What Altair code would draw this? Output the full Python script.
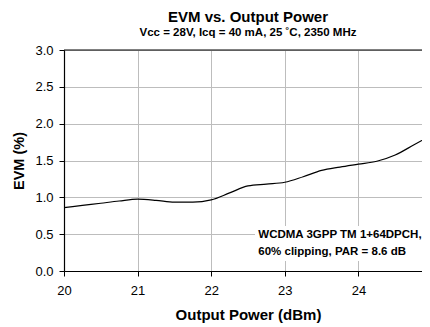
import altair as alt
import pandas as pd

power = [20.0, 20.25, 20.5, 20.75, 21.0, 21.25, 21.5, 21.75, 22.0, 22.25, 22.5,
         22.75, 23.0, 23.25, 23.5, 23.75, 24.0, 24.25, 24.5, 24.75, 25.0]
evm = [0.86, 0.89, 0.92, 0.95, 0.975, 0.96, 0.935, 0.935, 0.965, 1.06, 1.155,
       1.18, 1.205, 1.28, 1.365, 1.41, 1.45, 1.49, 1.575, 1.71, 1.85]

x_ticks = [20, 21, 22, 23, 24, 25]
y_ticks = [0.0, 0.5, 1.0, 1.5, 2.0, 2.5, 3.0]

note_lines = ["WCDMA 3GPP TM 1+64DPCH,", "60% clipping, PAR = 8.6 dB"]
note_x = [22.64, 22.64]
note_y = [0.489, 0.254]
box_x = [22.595]
box_x2 = [24.95]
box_y = [0.136]
box_y2 = [0.61]

FONT = "Liberation Sans"

df = pd.DataFrame({"power": power, "evm": evm})
notes = pd.DataFrame({"text": note_lines, "x": note_x, "y": note_y})
box = pd.DataFrame({"x": box_x, "x2": box_x2, "y": box_y, "y2": box_y2})
top = pd.DataFrame({"y": [3.0]})

xscale = alt.Scale(domain=[20, 25], nice=False, zero=False)
yscale = alt.Scale(domain=[0, 3], nice=False)

xaxis = alt.Axis(values=x_ticks, format="d", title="Output Power (dBm)",
                 titlePadding=10, labelPadding=8, labelFlush=False,
                 labelOverlap=False, titleFontSize=15)
yaxis = alt.Axis(values=y_ticks, format=".1f", title="EVM (%)",
                 titlePadding=8, labelPadding=6, labelOverlap=False,
                 titleFontSize=14.5)

line = alt.Chart(df).mark_line(color="black", strokeWidth=1.2, interpolate="monotone").encode(
    x=alt.X("power:Q", scale=xscale, axis=xaxis),
    y=alt.Y("evm:Q", scale=yscale, axis=yaxis),
)

rect = alt.Chart(box).mark_rect(color="white").encode(
    x=alt.X("x:Q", scale=xscale, axis=xaxis), x2="x2:Q",
    y=alt.Y("y:Q", scale=yscale, axis=yaxis), y2="y2:Q",
)

text = alt.Chart(notes).mark_text(
    align="left", baseline="middle", font=FONT, fontSize=11.5, fontWeight="bold", color="black"
).encode(
    x=alt.X("x:Q", scale=xscale, axis=xaxis),
    y=alt.Y("y:Q", scale=yscale, axis=yaxis),
    text="text:N",
)

toprule = alt.Chart(top).mark_rule(color="black", strokeWidth=1).encode(
    y=alt.Y("y:Q", scale=yscale, axis=yaxis)
)

chart = alt.layer(line, rect, text, toprule).properties(
    width=368,
    height=221,
    autosize=alt.AutoSizeParams(type="none"),
    padding={"left": 56, "top": 42, "right": -10, "bottom": 60},
    title=alt.TitleParams(
        text="EVM vs. Output Power",
        subtitle="Vcc = 28V, Icq = 40 mA, 25 ˚C, 2350 MHz",
        font=FONT, fontSize=15, fontWeight="bold", color="black",
        subtitleFont=FONT, subtitleFontSize=11.5, subtitleFontWeight="bold",
        subtitleColor="black", subtitlePadding=2,
        anchor="middle", offset=6,
    ),
).configure_view(stroke=None).configure_axis(
    labelFont=FONT, labelFontSize=13, labelColor="black",
    titleFont=FONT, titleFontWeight="bold", titleColor="black",
    domainColor="black", domainWidth=1.2, tickColor="black", tickSize=5,
    gridColor="#bdbdbd", gridWidth=1, grid=True,
)

chart.save("out.html", embed_options={"renderer": "svg", "actions": False})
